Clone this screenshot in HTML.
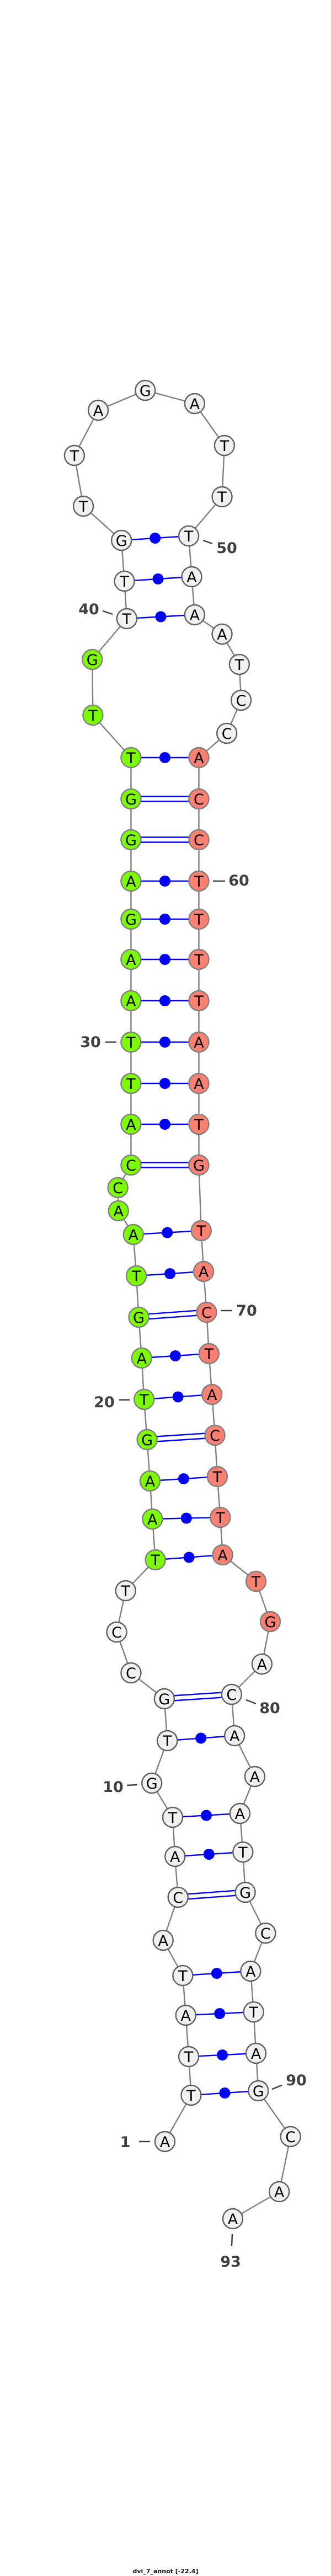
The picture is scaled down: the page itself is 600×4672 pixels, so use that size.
<!DOCTYPE html>
<html><head><meta charset="utf-8">
<style>
html,body{margin:0;padding:0;background:#fff;}
svg{display:block;}
.n{font-family:"DejaVu Sans","Liberation Sans",sans-serif;font-size:27px;text-anchor:middle;fill:#000;}
.l{font-family:"DejaVu Sans","Liberation Sans",sans-serif;font-size:27px;font-weight:bold;fill:#404040;text-anchor:middle;}
</style></head>
<body>
<svg id="s" width="600" height="4672" xmlns="http://www.w3.org/2000/svg">
<g id="bb" stroke="#808080" stroke-width="2.4" fill="none"></g>
<g id="pr" stroke="#0000ff" stroke-width="2.4" fill="#0000ff"></g>
<g id="nd"></g>
<g stroke="#404040" stroke-width="2.5">
<line x1="368" y1="980" x2="385" y2="986"/>
<line x1="186" y1="1108" x2="204" y2="1114"/>
<line x1="386" y1="1598" x2="408" y2="1598"/>
<line x1="191" y1="1890" x2="211" y2="1890"/>
<line x1="400" y1="2377" x2="421" y2="2377"/>
<line x1="216" y1="2539" x2="235" y2="2539"/>
<line x1="446" y1="3083" x2="464" y2="3090"/>
<line x1="230" y1="3238" x2="249" y2="3237"/>
<line x1="493" y1="3789" x2="511" y2="3782"/>
<line x1="252" y1="3884" x2="272" y2="3884"/>
<line x1="421" y1="4052" x2="420" y2="4074"/>
</g>
<text class="l" x="411" y="1003">50</text>
<text class="l" x="161" y="1114">40</text>
<text class="l" x="433" y="1606">60</text>
<text class="l" x="164" y="1899">30</text>
<text class="l" x="447" y="2386">70</text>
<text class="l" x="189" y="2552">20</text>
<text class="l" x="489" y="3107">80</text>
<text class="l" x="205" y="3250">10</text>
<text class="l" x="537" y="3782">90</text>
<text class="l" x="227" y="3894">1</text>
<text class="l" x="418" y="4111">93</text>
<text x="300" y="4667" font-family="DejaVu Sans, Liberation Sans, sans-serif" font-size="11" font-weight="bold" text-anchor="middle" fill="#111">dvi_7_annot [-22.4]</text>
</svg>
<script>
var N=[
['A',277,3884],['T',321,3800],['T',317,3730],['A',312,3655],['T',307,3583],['A',274,3519],['C',299,3441],['A',294,3367],['T',290,3296],['G',255,3234],
['T',281,3157],['G',276,3081],['C',220,3034],['C',196,2960],['T',211,2885],['T',261,2829],['A',256,2755],['A',252,2686],['G',247,2611],['T',242,2538],
['A',238,2463],['G',233,2389],['T',229,2314],['A',224,2239],['A',199,2196],['C',198,2154],['C',220,2113],['A',220,2039],['T',220,1965],['T',220,1890],
['A',220,1815],['A',220,1740],['G',220,1667],['A',220,1598],['G',220,1523],['G',220,1449],['T',220,1374],['T',156,1297],['G',155,1196],['T',213,1122],
['T',209,1054],['G',204,980],['T',140,918],['T',125,826],['A',165,744],['G',244,708],['A',327,732],['T',377,808],['T',373,901],['T',317,972],
['A',322,1046],['A',327,1115],['A',373,1150],['T',402,1205],['C',405,1270],['C',381,1330],['A',334,1374],['C',334,1449],['C',334,1523],['T',334,1598],
['T',334,1667],['T',334,1740],['T',334,1815],['A',334,1890],['A',334,1965],['T',334,2039],['G',334,2113],['T',338,2232],['A',342,2306],['C',347,2380],
['T',351,2455],['A',356,2529],['C',361,2603],['T',365,2678],['T',370,2752],['A',374,2820],['T',430,2868],['G',454,2941],['A',440,3018],['C',389,3073],
['A',394,3148],['A',428,3222],['A',403,3289],['T',408,3359],['G',412,3432],['C',446,3506],['A',421,3575],['T',426,3649],['A',430,3724],['G',434,3792],
['C',488,3875],['A',469,3975],['A',391,4024]];
N.forEach(function(n){n[1]=n[1]*1.0792;});
var P=[[2,90,1],[3,89,1],[4,88,1],[5,87,1],[7,85,2],[8,84,1],[9,83,1],[11,81,1],[12,80,2],[16,76,1],[17,75,1],[18,74,1],[19,73,2],[20,72,1],[21,71,1],[22,70,2],[23,69,1],[24,68,1],[27,67,2],[28,66,1],[29,65,1],[30,64,1],[31,63,1],[32,62,1],[33,61,1],[34,60,1],[35,59,2],[36,58,2],[37,57,1],[40,52,1],[41,51,1],[42,50,1]];
var ns="http://www.w3.org/2000/svg";
function el(t,a,p){var e=document.createElementNS(ns,t);for(var k in a)e.setAttribute(k,a[k]);p.appendChild(e);return e;}
var bb=document.getElementById('bb'),pr=document.getElementById('pr'),nd=document.getElementById('nd');
for(var i=0;i<N.length-1;i++)el('line',{x1:N[i][1],y1:N[i][2],x2:N[i+1][1],y2:N[i+1][2]},bb);
P.forEach(function(p){var a=N[p[0]-1],b=N[p[1]-1];
 if(p[2]==1){el('line',{x1:a[1],y1:a[2],x2:b[1],y2:b[2]},pr);el('circle',{cx:(a[1]+b[1])/2,cy:(a[2]+b[2])/2,r:10,stroke:'none'},pr);}
 else{var dx=b[1]-a[1],dy=b[2]-a[2],L=Math.sqrt(dx*dx+dy*dy),ox=-dy/L*4.5,oy=dx/L*4.5;
 el('line',{x1:a[1]+ox,y1:a[2]+oy,x2:b[1]+ox,y2:b[2]+oy},pr);el('line',{x1:a[1]-ox,y1:a[2]-oy,x2:b[1]-ox,y2:b[2]-oy},pr);}});
N.forEach(function(n,i){var k=i+1,f='#f1f1f1',s='#606060';
 if(k>=16&&k<=39){f='#7cfc00';s='#808080';} if(k>=57&&k<=78){f='#fa8072';s='#808080';}
 el('circle',{cx:n[1],cy:n[2],r:18,fill:f,stroke:s,'stroke-width':2.4},nd);
 var t=el('text',{x:n[1],y:n[2]+10,'class':'n'},nd);t.textContent=n[0];});
</script>
</body></html>
